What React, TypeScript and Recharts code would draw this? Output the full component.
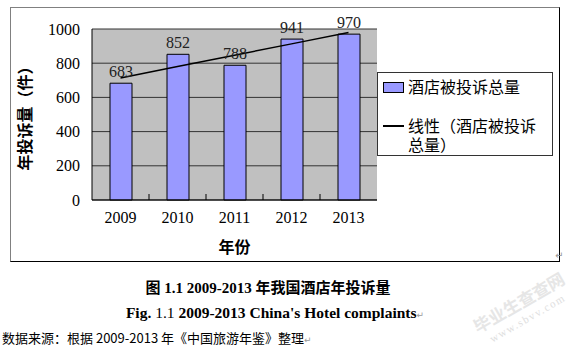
import React from 'react';
import { ComposedChart, Bar, Line, XAxis, YAxis, CartesianGrid, Legend, LabelList } from 'recharts';

const years = ['2009', '2010', '2011', '2012', '2013'];
const complaints = [683, 852, 788, 941, 970];
const trendValues = [714, 781, 847, 913, 979];
const yTicks = [0, 200, 400, 600, 800, 1000];

const barName = '酒店被投诉总量';
const trendName = '线性（酒店被投诉总量）';
const xTitle = '年份';
const yTitle = '年投诉量（件）';
const caption = '图 1.1 2009-2013 年我国酒店年投诉量';
const sourceNote = '数据来源：根据 2009-2013 年《中国旅游年鉴》整理';

const data = years.map((year, i) => ({ year, complaints: complaints[i], trend: trendValues[i] }));

const SERIF = "'Liberation Serif', 'Times New Roman', 'Noto Sans CJK SC', serif";
const CJK = "'Noto Sans CJK SC', 'Liberation Sans', sans-serif";

const XTick = (props: any) => {
  const { x, y, payload, index, visibleTicksCount, width } = props;
  const count = visibleTicksCount ?? years.length;
  const half = payload?.offset ?? width / (2 * count);
  const last = index === count - 1;
  return (
    <g>
      {!last && <line x1={x + half} x2={x + half} y1={y - 6} y2={y} stroke="#000" strokeWidth={1} />}
      <text x={x} y={y + 23} textAnchor="middle" fontFamily={SERIF} fontSize={16} fill="#000">
        {payload.value}
      </text>
    </g>
  );
};

const LegendContent = (props: any) => {
  const payload = [...(props.payload || [])].sort(
    (a: any, b: any) => (a.type === 'line' ? 1 : 0) - (b.type === 'line' ? 1 : 0)
  );
  return (
    <div
      style={{
        boxSizing: 'border-box',
        width: 176,
        height: 84,
        border: '1px solid #333',
        background: '#fff',
        fontFamily: CJK,
        fontSize: 16,
        color: '#000',
        position: 'relative',
      }}
    >
      {payload.map((entry: any, i: number) => {
        const top = i === 0 ? 4 : 43;
        return (
          <div key={i} style={{ position: 'absolute', left: 5, top, display: 'flex' }}>
            <div style={{ width: 22, height: 20, position: 'relative' }}>
              {entry.type === 'line' ? (
                <div style={{ position: 'absolute', left: 0, top: 9, width: 21, height: 2, background: '#000' }} />
              ) : (
                <div
                  style={{
                    position: 'absolute',
                    left: 0,
                    top: 5,
                    width: 21,
                    height: 11,
                    boxSizing: 'border-box',
                    background: '#9999FF',
                    border: '1px solid #000',
                  }}
                />
              )}
            </div>
            <div style={{ marginLeft: 3, width: 136, lineHeight: '19px', wordBreak: 'break-all' }}>{entry.value}</div>
          </div>
        );
      })}
    </div>
  );
};

export default function App() {
  return (
    <div style={{ position: 'absolute', left: 0, top: 0, width: 585, height: 359, background: '#fff', overflow: 'hidden' }}>
      <div
        style={{
          position: 'absolute',
          left: 10,
          top: 7,
          width: 550,
          height: 255,
          boxSizing: 'border-box',
          borderLeft: '1px solid #808080',
          borderTop: '1px solid #808080',
          borderRight: '1px solid #000',
          borderBottom: '1px solid #000',
        }}
      />
      <div style={{ position: 'absolute', left: 0, top: 0 }}>
        <ComposedChart width={585} height={270} data={data} margin={{ top: 29, right: 208, bottom: 0, left: 0 }}>
          <CartesianGrid vertical={false} stroke="#333" fill="#C0C0C0" />
          <XAxis
            dataKey="year"
            height={70}
            tickLine={false}
            tickSize={0}
            tickMargin={0}
            axisLine={{ stroke: '#000' }}
            tick={<XTick />}
            interval={0}
            label={{ value: xTitle, position: 'center', dy: 12, fontFamily: CJK, fontWeight: 700, fontSize: 16, fill: '#000' }}
          />
          <YAxis
            width={92}
            domain={[0, 1000]}
            ticks={yTicks}
            interval={0}
            tickLine={false}
            tickSize={0}
            tickMargin={12}
            axisLine={{ stroke: '#000' }}
            tick={{ fontFamily: SERIF, fontSize: 16, fill: '#000' }}
            label={{ value: yTitle, angle: -90, position: 'center', dx: -21, fontFamily: CJK, fontWeight: 700, fontSize: 16, fill: '#000' }}
          />
          <Legend
            layout="vertical"
            align="center"
            verticalAlign="middle"
            content={<LegendContent />}
            wrapperStyle={{ left: 377, top: 72, width: 176, height: 84 }}
          />
          <Bar dataKey="complaints" name={barName} fill="#9999FF" stroke="#000" strokeWidth={1} barSize={22} isAnimationActive={false} legendType="rect">
            <LabelList dataKey="complaints" position="top" offset={6} fontFamily={SERIF} fontSize={16} fill="#222" />
          </Bar>
          <Line
            dataKey="trend"
            name={trendName}
            type="linear"
            stroke="#000"
            strokeWidth={1.5}
            dot={false}
            activeDot={false}
            legendType="line"
            isAnimationActive={false}
          />
        </ComposedChart>
      </div>
      <div style={{ position: 'absolute', left: 555, top: 250, fontSize: 10, color: '#999', fontFamily: 'DejaVu Sans' }}>↵</div>
      <div
        style={{
          position: 'absolute',
          left: 0,
          width: 536,
          top: 278,
          height: 20,
          lineHeight: '20px',
          textAlign: 'center',
          fontFamily: SERIF,
          fontWeight: 700,
          fontSize: 15,
          color: '#000',
          whiteSpace: 'nowrap',
        }}
      >
        {caption}
      </div>
      <div
        style={{
          position: 'absolute',
          left: 0,
          width: 550,
          top: 303,
          height: 20,
          lineHeight: '20px',
          textAlign: 'center',
          fontFamily: SERIF,
          fontSize: 15.5,
          color: '#000',
          whiteSpace: 'nowrap',
        }}
      >
        <b>Fig.</b> 1.1 <b>2009-2013 China's Hotel complaints</b>
        <span style={{ fontFamily: 'DejaVu Sans', fontSize: 9, color: '#999' }}>↵</span>
      </div>
      <div
        style={{
          position: 'absolute',
          left: 2,
          top: 329,
          height: 18,
          lineHeight: '18px',
          fontFamily: CJK,
          fontSize: 13,
          color: '#000',
          whiteSpace: 'nowrap',
        }}
      >
        {sourceNote}
        <span style={{ fontFamily: 'DejaVu Sans', fontSize: 9, color: '#999' }}>↵</span>
      </div>
      <div
        style={{
          position: 'absolute',
          left: 470,
          top: 320,
          transform: 'rotate(-30deg)',
          transformOrigin: 'left top',
          fontFamily: CJK,
          fontWeight: 700,
          fontSize: 17,
          color: '#e6e6e6',
          whiteSpace: 'nowrap',
          lineHeight: '18px',
        }}
      >
        毕业生查查网
        <div style={{ fontFamily: SERIF, fontSize: 11, fontWeight: 400, marginLeft: 8, letterSpacing: 1.5, color: '#e0e0e0' }}>
          www.sbvv.com
        </div>
      </div>
    </div>
  );
}
